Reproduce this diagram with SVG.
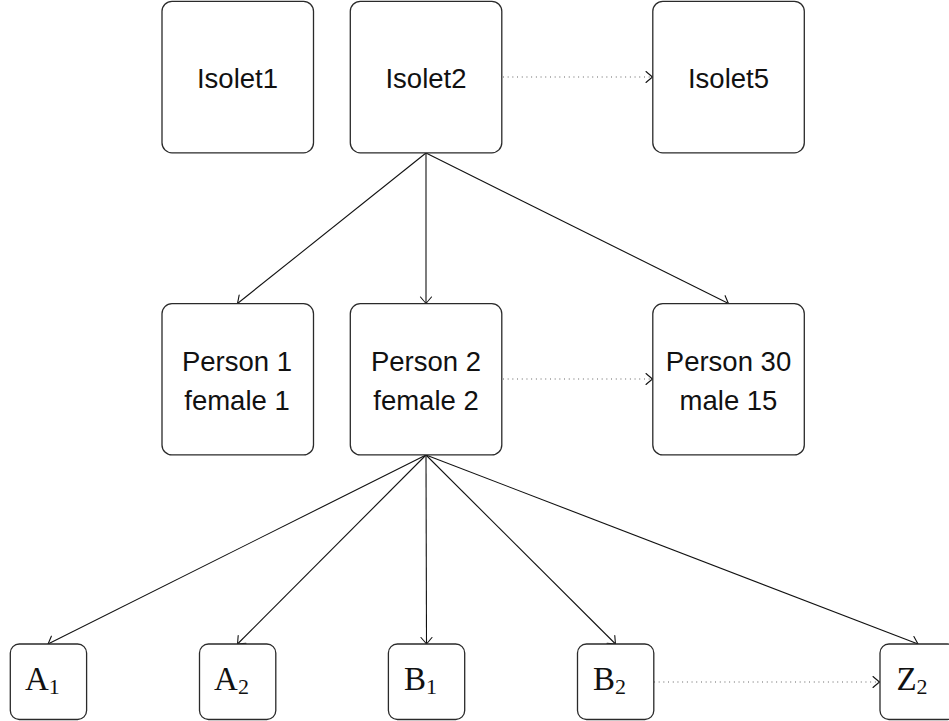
<svg xmlns="http://www.w3.org/2000/svg" width="949" height="721" viewBox="0 0 949 721">
  <defs>
    <marker id="to" viewBox="-9 -7 11 14" markerWidth="11" markerHeight="14" refX="0" refY="0" orient="auto" markerUnits="userSpaceOnUse" overflow="visible">
      <path d="M-6.5,-5.5 Q-1.5,-1.2 0,0 Q-1.5,1.2 -6.5,5.5" fill="none" stroke="#111" stroke-width="1.1" stroke-linecap="round"/>
    </marker>
    <style>
      .box { fill: #fff; stroke: #2a2a2a; stroke-width: 1.3; }
      .sans { font-family: "Liberation Sans", "DejaVu Sans", sans-serif; font-size: 27.5px; fill: #111; text-anchor: middle; }
      .serif { font-family: "Liberation Serif", "DejaVu Serif", serif; font-size: 33px; fill: #111; text-anchor: middle; }
      .sub { font-size: 22px; }
      .edge { fill: none; stroke: #111; stroke-width: 1.1; marker-end: url(#to); }
      .dots { fill: none; stroke: #555; stroke-width: 1.1; stroke-dasharray: 0.9 3.8; marker-end: url(#to); }
    </style>
  </defs>

  <!-- connectors -->
  <g id="connectors">
    <line class="edge" x1="426" y1="153" x2="237.5" y2="303.5"/>
    <line class="edge" x1="426" y1="153" x2="426" y2="303.5"/>
    <line class="edge" x1="426" y1="153" x2="728.5" y2="303.5"/>
    <line class="edge" x1="426" y1="455" x2="48" y2="644"/>
    <line class="edge" x1="426" y1="455" x2="237.5" y2="644"/>
    <line class="edge" x1="426" y1="455" x2="426.5" y2="644"/>
    <line class="edge" x1="426" y1="455" x2="615.5" y2="644"/>
    <line class="edge" x1="426" y1="455" x2="918" y2="644"/>
    <line class="dots" x1="503" y1="77" x2="652.5" y2="77"/>
    <line class="dots" x1="503" y1="379" x2="652.5" y2="379"/>
    <line class="dots" x1="654" y1="682" x2="879.5" y2="682"/>
  </g>

  <!-- top row -->
  <g id="isolet1">
    <rect class="box" x="162" y="1.3" width="151.5" height="151.5" rx="10"/>
    <text class="sans" x="237.5" y="88">Isolet1</text>
  </g>
  <g id="isolet2">
    <rect class="box" x="350.3" y="1.3" width="151.5" height="151.5" rx="10"/>
    <text class="sans" x="426" y="88">Isolet2</text>
  </g>
  <g id="isolet5">
    <rect class="box" x="652.8" y="1.3" width="151.5" height="151.5" rx="10"/>
    <text class="sans" x="728.5" y="88">Isolet5</text>
  </g>

  <!-- middle row -->
  <g id="person1">
    <rect class="box" x="162" y="303.7" width="151.5" height="151.2" rx="10"/>
    <text class="sans" x="237" y="370.5">Person 1</text>
    <text class="sans" x="237" y="409.5">female 1</text>
  </g>
  <g id="person2">
    <rect class="box" x="350.3" y="303.7" width="151.5" height="151.2" rx="10"/>
    <text class="sans" x="426" y="370.5">Person 2</text>
    <text class="sans" x="426" y="409.5">female 2</text>
  </g>
  <g id="person30">
    <rect class="box" x="652.8" y="303.7" width="151.5" height="151.2" rx="10"/>
    <text class="sans" x="728.5" y="370.5">Person 30</text>
    <text class="sans" x="728.5" y="409.5">male 15</text>
  </g>

  <!-- bottom row -->
  <g id="a1">
    <rect class="box" x="10.3" y="644" width="76.3" height="75.5" rx="9"/>
    <text class="serif" x="42.3" y="690">A<tspan class="sub" dy="4">1</tspan></text>
  </g>
  <g id="a2">
    <rect class="box" x="199.5" y="644" width="76.3" height="75.5" rx="9"/>
    <text class="serif" x="231.5" y="690">A<tspan class="sub" dy="4">2</tspan></text>
  </g>
  <g id="b1">
    <rect class="box" x="388.4" y="644" width="76.3" height="75.5" rx="9"/>
    <text class="serif" x="420.4" y="690">B<tspan class="sub" dy="4">1</tspan></text>
  </g>
  <g id="b2">
    <rect class="box" x="577.5" y="644" width="76.3" height="75.5" rx="9"/>
    <text class="serif" x="609.5" y="690">B<tspan class="sub" dy="4">2</tspan></text>
  </g>
  <g id="z2">
    <rect class="box" x="880" y="644" width="76.3" height="75.5" rx="9"/>
    <text class="serif" x="912" y="690">Z<tspan class="sub" dy="4">2</tspan></text>
  </g>
</svg>
